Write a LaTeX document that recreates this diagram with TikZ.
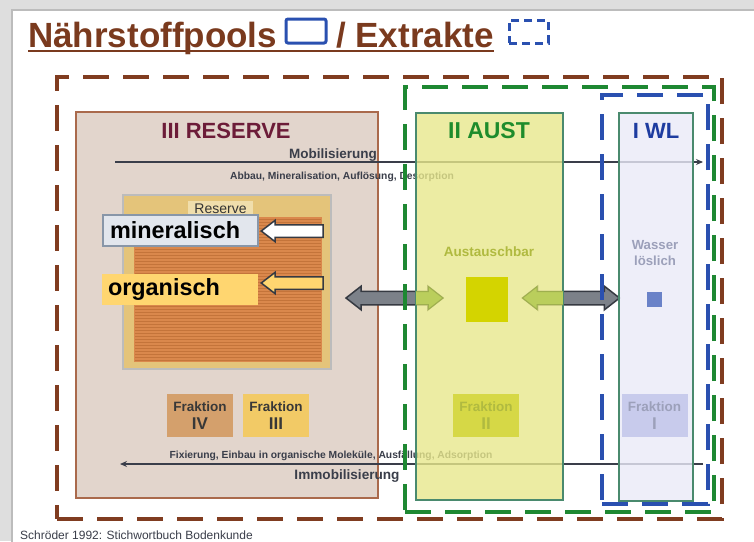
\documentclass[tikz,border=0pt]{standalone}
\usepackage{fontspec}
\setmainfont{Liberation Sans}
\usetikzlibrary{shapes.arrows,arrows.meta}
\definecolor{pageGray}{RGB}{222,222,222}
\definecolor{slideEdge}{RGB}{188,188,188}
\definecolor{titleBrown}{RGB}{122,58,30}
\definecolor{poolBlue}{RGB}{42,80,176}
\definecolor{poolGreen}{RGB}{30,136,50}
\definecolor{poolBrown}{RGB}{128,60,32}
\definecolor{reserveFill}{RGB}{226,213,204}
\definecolor{reserveEdge}{RGB}{170,106,76}
\definecolor{reserveText}{RGB}{108,28,56}
\definecolor{austFill}{RGB}{232,232,140}
\definecolor{austEdge}{RGB}{74,138,110}
\definecolor{austText}{RGB}{30,140,44}
\definecolor{wlFill}{RGB}{234,234,248}
\definecolor{wlText}{RGB}{30,60,160}
\definecolor{tanFill}{RGB}{228,196,122}
\definecolor{stripeFill}{RGB}{218,136,76}
\definecolor{stripeLine}{RGB}{196,116,58}
\definecolor{labelFill}{RGB}{240,222,172}
\definecolor{mineralFill}{RGB}{226,230,237}
\definecolor{mineralEdge}{RGB}{136,150,168}
\definecolor{organFill}{RGB}{255,214,112}
\definecolor{arrowGray}{RGB}{124,129,137}
\definecolor{arrowDark}{RGB}{54,58,66}
\definecolor{arrowGreen}{RGB}{186,206,92}
\definecolor{lineDark}{RGB}{58,62,74}
\definecolor{fraktIV}{RGB}{212,160,108}
\definecolor{fraktIII}{RGB}{242,202,102}
\definecolor{fraktII}{RGB}{214,216,70}
\definecolor{fraktI}{RGB}{200,203,236}
\definecolor{austSquare}{RGB}{212,212,0}
\definecolor{wlSquare}{RGB}{106,130,200}
\definecolor{austSoft}{RGB}{176,186,64}
\definecolor{wlSoft}{RGB}{156,160,186}

\begin{document}
\begin{tikzpicture}[x=1pt,y=-1pt,
    pool/.style={draw, line width=1.5pt, inner sep=0pt},
    frakt/.style={minimum width=66pt, minimum height=43pt, inner sep=0pt, align=center, font=\fontsize{13.5}{18}\selectfont\bfseries},
    extrakt/.style={line width=3.5pt, dash pattern=on 26pt off 14pt, inner sep=0pt},
    blockarrow/.style={single arrow, shape border rotate=180, draw=arrowDark, line width=1.5pt, minimum height=62pt, single arrow head extend=4.5pt, single arrow tip angle=75, inner xsep=0pt, inner ysep=5.5pt, anchor=tip},
    swaparrow/.style={double arrow, minimum height=97pt, double arrow head extend=5pt, double arrow tip angle=76, inner xsep=0pt, inner ysep=6pt},
    flow/.style={draw=lineDark, line width=1.5pt, -{Stealth[length=7pt,width=6pt]}},
    tinytext/.style={font=\fontsize{10.3}{12}\selectfont\bfseries, text=lineDark, inner sep=0pt}]
  \useasboundingbox (0,0) rectangle (754,541);
  \fill[pageGray] (0,0) rectangle (754,541);
  \filldraw[fill=white, draw=slideEdge, line width=2pt] (12,10) rectangle (780,570);

  % Title
  \node[anchor=base west, inner sep=0pt, text=titleBrown, font=\fontsize{35}{40}\selectfont\bfseries] (ttl) at (28,47) {Nährstoffpools};
  \node[draw=poolBlue, line width=3pt, rounded corners=2pt, minimum width=40pt, minimum height=24pt, inner sep=0pt] (legPool) at (306,31) {};
  \node[anchor=base west, inner sep=0pt, text=titleBrown, font=\fontsize{35}{40}\selectfont\bfseries] (ext) at (336,47) {/ Extrakte};
  \node[draw=poolBlue, line width=3pt, dash pattern=on 8pt off 5pt, minimum width=39pt, minimum height=23pt, inner sep=0pt] (legExtr) at (528.5,31.5) {};
  \draw[titleBrown, line width=2pt] ([yshift=-4pt]ttl.base west) -- ([yshift=-4pt]ext.base east);

  % Pool III
  \node[pool, draw=reserveEdge, fill=reserveFill, minimum width=302pt, minimum height=386pt] (reserve) at (227,305) {};
  \node[text=reserveText, font=\fontsize{22}{24}\selectfont\bfseries] (resTitle) at (226,131) {III RESERVE};

  \node[draw=slideEdge, line width=1.5pt, fill=tanFill, minimum width=208pt, minimum height=174pt, inner sep=0pt] (resBlock) at (227,282) {};
  \node[fill=stripeFill, minimum width=188pt, minimum height=145pt, inner sep=0pt] (stripes) at (228,289.5) {};
  \foreach \y in {219,222,...,360}
    \draw[stripeLine, line width=0.8pt] (135,\y) -- (321,\y);
  \node[fill=labelFill, minimum width=65pt, minimum height=15pt, inner sep=0pt, font=\fontsize{14}{15}\selectfont, text=black!80] (resLabel) at (220.5,208.5) {Reserve};

  \node[draw=mineralEdge, line width=1.5pt, fill=mineralFill, text width=141pt, inner xsep=7pt, inner ysep=0pt, minimum height=31pt, font=\fontsize{23.4}{26}\selectfont\bfseries] (mineral) at (180.5,230.5) {mineralisch};
  \node[fill=organFill, text width=144pt, inner xsep=6pt, inner ysep=0pt, minimum height=31pt, font=\fontsize{23.4}{26}\selectfont\bfseries] (organ) at (180,289.5) {organisch};
  \node[blockarrow, fill=white] (toMineral) at (260,231) {};
  \node[blockarrow, fill=organFill] (toOrgan) at (260,283) {};

  \node[frakt, fill=fraktIV, text=black!78] (frIV) at (200,415.5) {Fraktion\\{\fontsize{17}{18}\selectfont IV}};
  \node[frakt, fill=fraktIII, text=black!78] (frIII) at (276,415.5) {Fraktion\\{\fontsize{17}{18}\selectfont III}};

  % Mobilisierung / Immobilisierung
  \coordinate (mobL) at (115,162);
  \coordinate (mobR) at (703,162);
  \coordinate (immR) at (703,464);
  \coordinate (immL) at (120,464);
  \draw[flow] (mobL) -- (mobR);
  \draw[flow] (immR) -- (immL);
  \node[anchor=base east, inner sep=0pt, text=lineDark, font=\fontsize{13.5}{15}\selectfont\bfseries] (mob) at (377,158) {Mobilisierung};
  \node[tinytext] (mobText) at (342,177) {Abbau, Mineralisation, Auflösung, Desorption};
  \node[tinytext] (immText) at (331,456) {Fixierung, Einbau in organische Moleküle, Ausfällung, Adsorption};
  \node[inner sep=0pt, text=lineDark, font=\fontsize{13.6}{15}\selectfont\bfseries] (imm) at (347,476) {Immobilisierung};

  % exchange arrows
  \node[swaparrow, fill=arrowGray, draw=arrowDark, line width=1.5pt] (swapL) at (394.5,298) {};
  \node[swaparrow, fill=arrowGray, draw=arrowDark, line width=1.5pt] (swapR) at (571,298) {};

  % Pool II
  \node[pool, draw=austEdge, fill=austFill, fill opacity=0.8, minimum width=147pt, minimum height=387pt] (aust) at (489.5,306.5) {};
  \begin{scope}
    \clip ([xshift=0.8pt,yshift=-0.8pt]aust.north west) rectangle ([xshift=-0.8pt,yshift=0.8pt]aust.south east);
    \node[swaparrow, fill=arrowGreen, draw=arrowGreen!85!black, line width=1pt] (swapLin) at (394.5,298) {};
    \node[swaparrow, fill=arrowGreen, draw=arrowGreen!85!black, line width=1pt] (swapRin) at (571,298) {};
  \end{scope}
  \node[text=austText, font=\fontsize{23}{24}\selectfont\bfseries] (austTitle) at (489,131) {II AUST};
  \node[text=austSoft, font=\fontsize{13.5}{15}\selectfont\bfseries] (austText) at (489,252) {Austauschbar};
  \node[fill=austSquare, minimum width=42pt, minimum height=45pt, inner sep=0pt] (austBox) at (487,299.5) {};
  \node[frakt, fill=fraktII, text=austSoft] (frII) at (486,415.5) {Fraktion\\{\fontsize{17}{18}\selectfont II}};

  % Pool I
  \node[pool, draw=austEdge, fill=wlFill, fill opacity=0.8, minimum width=74pt, minimum height=388pt] (wl) at (656,307) {};
  \node[text=wlText, font=\fontsize{22}{24}\selectfont\bfseries] (wlTitle) at (656,131) {I WL};
  \node[text=wlSoft, align=center, font=\fontsize{13.2}{16.5}\selectfont\bfseries] (wlText) at (655,253) {Wasser\\löslich};
  \node[fill=wlSquare, minimum width=15pt, minimum height=15pt, inner sep=0pt] (wlBox) at (654.5,299.5) {};
  \node[frakt, fill=fraktI, text=wlSoft] (frI) at (654.5,415.5) {Fraktion\\{\fontsize{17}{18}\selectfont I}};

  % Extrakte
  \node[extrakt, draw=poolBrown, line width=4.5pt, minimum width=665pt, minimum height=442pt] (exReserve) at (389.5,298) {};
  \node[extrakt, draw=poolGreen, minimum width=309pt, minimum height=425pt] (exAust) at (559.5,299.5) {};
  \node[extrakt, draw=poolBlue, minimum width=106pt, minimum height=409pt] (exWl) at (655,299.5) {};

  \node[anchor=west, inner sep=0pt, text=lineDark, font=\fontsize{12}{14}\selectfont] (src) at (20,535) {Schröder 1992: Stichwortbuch Bodenkunde};
\end{tikzpicture}
\end{document}
